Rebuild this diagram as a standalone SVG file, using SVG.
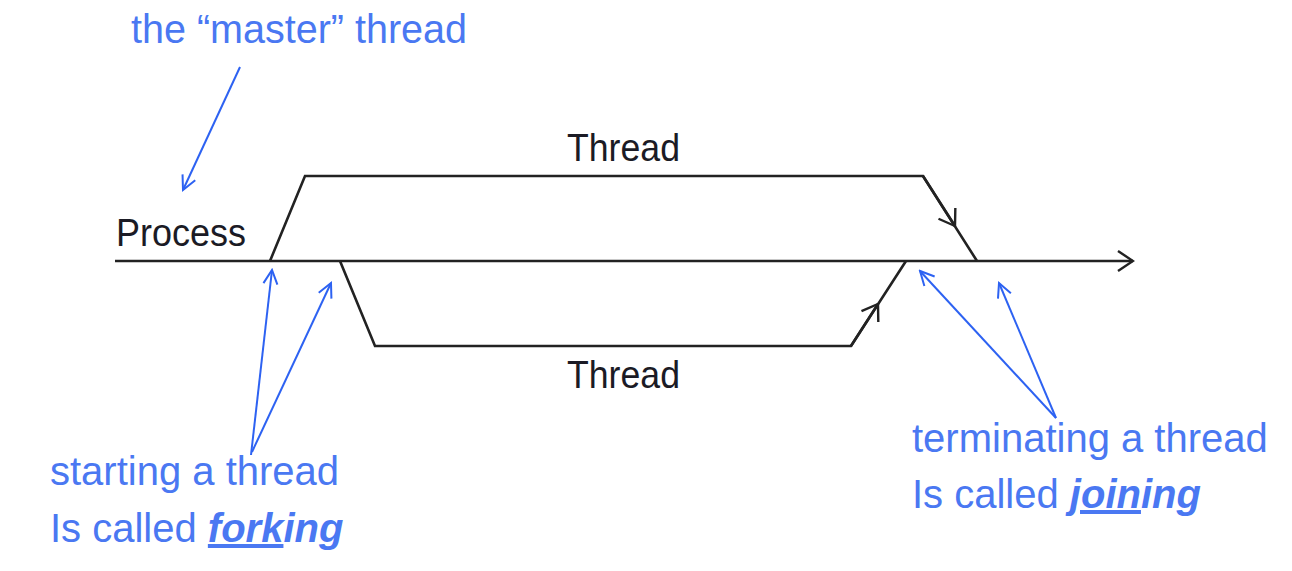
<svg xmlns="http://www.w3.org/2000/svg" width="1292" height="571" viewBox="0 0 1292 571">
<style>
.blue{font-family:"Liberation Sans",Arial,sans-serif;font-size:40px;fill:#4a78f2}
.blk{font-family:"Liberation Sans",Arial,sans-serif;font-size:36px;fill:#1b1b25}
.bi{font-weight:bold;font-style:italic}
.ln{fill:none;stroke:#222;stroke-width:2.6;stroke-linejoin:miter}
.ba{fill:none;stroke:#2d62f2;stroke-width:2}
</style>
<defs>
<marker id="chev" viewBox="-16 -12 18 24" markerWidth="18" markerHeight="24" refX="0" refY="0" orient="auto" markerUnits="userSpaceOnUse">
<path d="M-15,-10 L0,0 L-15,10" fill="none" stroke="#222" stroke-width="2.4"/>
</marker>
<marker id="barr" viewBox="-16 -9 18 18" markerWidth="18" markerHeight="18" refX="0" refY="0" orient="auto" markerUnits="userSpaceOnUse">
<path d="M-14,-7 L0,0 L-14,7" fill="none" stroke="#2d62f2" stroke-width="2"/>
</marker>
</defs>
<rect width="1292" height="571" fill="#fff"/>
<g id="connectors">
<path class="ln" d="M115,261 L1133,261" stroke-width="3" marker-end="url(#chev)"/>
<path class="ln" d="M270,261 L305,176 L923,176 L977,261"/>
<path class="ln" d="M923,176 L955,226" marker-end="url(#chev)"/>
<path class="ln" d="M340,261 L375,346 L851,346 L906,261"/>
<path class="ln" d="M851,346 L878,304" marker-end="url(#chev)"/>
<path class="ba" d="M240,67 L183,190" marker-end="url(#barr)"/>
<path class="ba" d="M251,455 L272,270" marker-end="url(#barr)"/>
<path class="ba" d="M252,452 L331,283" marker-end="url(#barr)"/>
<path class="ba" d="M1056,418 L920,271" marker-end="url(#barr)"/>
<path class="ba" d="M1056,418 L999,283" marker-end="url(#barr)"/>
</g>
<g id="master-label"><text class="blue" x="131" y="43" textLength="336" lengthAdjust="spacingAndGlyphs">the “master” thread</text></g>
<g id="process-label"><text class="blk" x="116" y="246" textLength="130" lengthAdjust="spacingAndGlyphs" transform="translate(0,-24.6) scale(1,1.1)">Process</text></g>
<g id="thread-top"><text class="blk" x="567" y="146.4" textLength="113" lengthAdjust="spacingAndGlyphs" transform="scale(1,1.1)">Thread</text></g>
<g id="thread-bottom"><text class="blk" x="567" y="352.7" textLength="113" lengthAdjust="spacingAndGlyphs" transform="scale(1,1.1)">Thread</text></g>
<g id="fork-label">
<text class="blue" x="50" y="485">starting a thread</text>
<text class="blue" x="50" y="542">Is called <tspan class="bi" text-decoration="underline">fork</tspan><tspan class="bi">ing</tspan></text>
</g>
<g id="join-label">
<text class="blue" x="912" y="452">terminating a thread</text>
<text class="blue" x="912" y="508">Is called <tspan class="bi" text-decoration="underline">join</tspan><tspan class="bi">ing</tspan></text>
</g>
</svg>
